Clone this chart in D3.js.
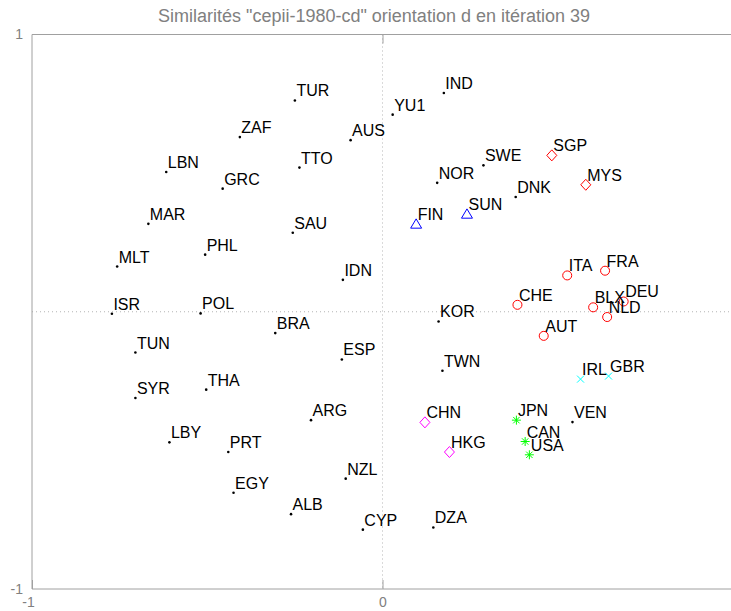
<!DOCTYPE html>
<html lang="fr">
<head>
<meta charset="UTF-8">
<title>Similarités cepii-1980-cd</title>
<script src="https://cdn.jsdelivr.net/npm/d3@7"></script>
<style>
    body { margin: 0; background: #fff; }
    text { font-family: "Liberation Sans", Arial, Helvetica, sans-serif; }
</style>
</head>
<body>
<div id="chart"></div>
<script>
    var title = 'Similarités "cepii-1980-cd" orientation d en itération 39';

    var countries = ['TUR', 'ZAF', 'AUS', 'LBN', 'TTO', 'GRC', 'MAR', 'SAU', 'PHL', 'MLT', 'IDN', 'ISR', 'POL',
        'BRA', 'TUN', 'ESP', 'SYR', 'THA', 'ARG', 'LBY', 'PRT', 'NZL', 'EGY', 'ALB', 'CYP',
        'IND', 'YU1', 'SGP', 'SWE', 'NOR', 'MYS', 'DNK', 'SUN', 'FIN', 'ITA', 'FRA', 'CHE', 'BLX', 'DEU', 'NLD',
        'KOR', 'AUT', 'TWN', 'IRL', 'GBR', 'CHN', 'JPN', 'VEN', 'CAN', 'HKG', 'USA', 'DZA'];

    var xValues = [-0.250, -0.407, -0.091, -0.617, -0.237, -0.456, -0.668, -0.256, -0.506, -0.757, -0.113, -0.772, -0.519,
        -0.306, -0.705, -0.116, -0.705, -0.503, -0.204, -0.608, -0.440, -0.105, -0.425, -0.261, -0.056,
        0.175, 0.029, 0.483, 0.288, 0.156, 0.580, 0.380, 0.241, 0.096, 0.527, 0.635, 0.385, 0.601, 0.688, 0.641,
        0.160, 0.460, 0.171, 0.565, 0.645, 0.121, 0.382, 0.542, 0.407, 0.191, 0.419, 0.145];

    var yValues = [0.762, 0.630, 0.619, 0.504, 0.520, 0.444, 0.317, 0.285, 0.206, 0.163, 0.115, -0.007, -0.006,
        -0.077, -0.147, -0.172, -0.311, -0.281, -0.391, -0.471, -0.506, -0.602, -0.653, -0.730, -0.786,
        0.789, 0.711, 0.564, 0.528, 0.465, 0.458, 0.414, 0.353, 0.317, 0.131, 0.148, 0.025, 0.016, 0.037, -0.019,
        -0.035, -0.087, -0.213, -0.243, -0.232, -0.399, -0.391, -0.398, -0.468, -0.506, -0.516, -0.778];

    // marker group of each country
    var groups = ['dot', 'dot', 'dot', 'dot', 'dot', 'dot', 'dot', 'dot', 'dot', 'dot', 'dot', 'dot', 'dot',
        'dot', 'dot', 'dot', 'dot', 'dot', 'dot', 'dot', 'dot', 'dot', 'dot', 'dot', 'dot',
        'dot', 'dot', 'diamondRed', 'dot', 'dot', 'diamondRed', 'dot', 'triangle', 'triangle',
        'circle', 'circle', 'circle', 'circle', 'circle', 'circle',
        'dot', 'circle', 'dot', 'cross', 'cross', 'diamondMagenta', 'star', 'dot', 'star', 'diamondMagenta', 'star', 'dot'];

    var xTicks = [-1, 0];
    var yTicks = [-1, 1];

    var width = 731;
    var height = 611;

    var svg = d3.select('#chart')
        .append('svg')
        .attr('width', width)
        .attr('height', height);

    var x = d3.scaleLinear().domain([-1, 1]).range([32, 733]);
    var y = d3.scaleLinear().domain([-1, 1]).range([589, 34.5]);

    // dotted zero lines
    svg.append('line')
        .attr('x1', x(0)).attr('x2', x(0))
        .attr('y1', y(1)).attr('y2', y(-1))
        .attr('stroke', '#b4b4b4')
        .attr('stroke-dasharray', '1,3');
    svg.append('line')
        .attr('x1', x(-1)).attr('x2', x(1))
        .attr('y1', y(0)).attr('y2', y(0))
        .attr('stroke', '#b4b4b4')
        .attr('stroke-dasharray', '1,3');

    // axes
    var xAxis = d3.axisBottom(x)
        .tickValues(xTicks)
        .tickSize(-9)
        .tickPadding(8)
        .tickFormat(function (d) { return String(d); });

    var xAxisTop = d3.axisTop(x)
        .tickValues([0])
        .tickSize(-9)
        .tickFormat('');

    var yAxis = d3.axisLeft(y)
        .tickValues(yTicks)
        .tickSize(0)
        .tickPadding(9)
        .tickFormat(function (d) { return String(d); });

    var gx = svg.append('g')
        .attr('transform', 'translate(0,' + y(-1) + ')')
        .call(xAxis);
    gx.selectAll('.tick text')
        .attr('dx', function (d) { return d < 0 ? -4 : 0; });
    svg.append('g')
        .attr('transform', 'translate(0,' + y(1) + ')')
        .call(xAxisTop);
    svg.append('g')
        .attr('transform', 'translate(' + x(-1) + ',0)')
        .call(yAxis);

    svg.selectAll('.domain').remove();
    svg.selectAll('.tick line').attr('stroke', '#a0a0a0');
    svg.selectAll('.tick text')
        .attr('fill', '#808080')
        .style('font-size', '14px')
        .style('font-family', '"Liberation Sans", Arial, sans-serif');

    // frame: left, top, bottom
    var frame = svg.append('g')
        .attr('stroke', '#a0a0a0')
        .attr('fill', 'none');
    frame.append('path')
        .attr('d', 'M' + width + ',' + y(1) + 'H' + x(-1) + 'V' + y(-1) + 'H' + width);

    // title
    svg.append('text')
        .attr('x', 374)
        .attr('y', 22)
        .attr('text-anchor', 'middle')
        .attr('fill', '#808080')
        .style('font-size', '18px')
        .text(title);

    // markers
    var markerColors = {
        dot: '#000000',
        circle: '#ff0000',
        diamondRed: '#ff0000',
        diamondMagenta: '#ff00ff',
        triangle: '#0000ff',
        cross: '#00ffff',
        star: '#00ff00'
    };

    function markerPath(g) {
        if (g === 'circle') {
            return 'M-4.5,0A4.5,4.5 0 1,0 4.5,0A4.5,4.5 0 1,0 -4.5,0Z';
        } else if (g === 'diamondRed' || g === 'diamondMagenta') {
            return 'M0,-5.5L5,0L0,5.5L-5,0Z';
        } else if (g === 'triangle') {
            return 'M0,-5L5.5,4.3L-5.5,4.3Z';
        } else if (g === 'cross') {
            return 'M-3.5,-3.5L3.5,3.5M-3.5,3.5L3.5,-3.5';
        } else if (g === 'star') {
            return 'M-4.5,0H4.5M0,-4.5V4.5M-3.2,-3.2L3.2,3.2M-3.2,3.2L3.2,-3.2';
        }
        return '';
    }

    var points = countries.map(function (c, i) {
        return { name: c, x: xValues[i], y: yValues[i], group: groups[i] };
    });

    var marks = svg.append('g');

    marks.selectAll('circle.dot')
        .data(points.filter(function (d) { return d.group === 'dot'; }))
        .enter()
        .append('circle')
        .attr('class', 'dot')
        .attr('cx', function (d) { return x(d.x); })
        .attr('cy', function (d) { return y(d.y); })
        .attr('r', 1.3)
        .attr('fill', '#000');

    marks.selectAll('path.marker')
        .data(points.filter(function (d) { return d.group !== 'dot'; }))
        .enter()
        .append('path')
        .attr('class', 'marker')
        .attr('transform', function (d) { return 'translate(' + x(d.x) + ',' + y(d.y) + ')'; })
        .attr('d', function (d) { return markerPath(d.group); })
        .attr('fill', 'none')
        .attr('stroke', function (d) { return markerColors[d.group]; })
        .attr('stroke-width', 1);

    svg.append('g')
        .selectAll('text')
        .data(points)
        .enter()
        .append('text')
        .attr('x', function (d) { return x(d.x) + 1.5; })
        .attr('y', function (d) { return y(d.y) - 4; })
        .attr('fill', '#000')
        .style('font-size', '16px')
        .text(function (d) { return d.name; });
</script>
</body>
</html>
